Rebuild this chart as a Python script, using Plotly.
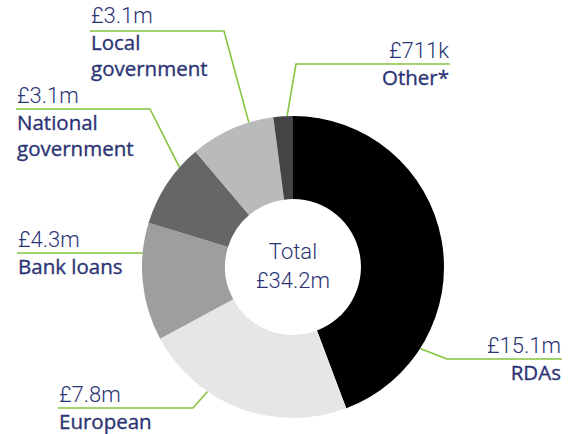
import math
import plotly.graph_objects as go

# Funding sources (£m), clockwise from 12 o'clock
sources = ["RDAs", "European", "Bank loans", "National government", "Local government", "Other*"]
amounts = [15.1, 7.8, 4.3, 3.1, 3.1, 0.711]
value_labels = ["£15.1m", "£7.8m", "£4.3m", "£3.1m", "£3.1m", "£711k"]
name_labels = ["RDAs", "European", "Bank loans", "National<br>government", "Local<br>government", "Other*"]
total_label = "£34.2m"

colors = ["#000000", "#e6e6e6", "#9e9e9f", "#666668", "#b9babb", "#444446"]

W, H = 568, 434
CX, CY, R = 293, 267, 151          # pie centre and radius in pixels
HOLE = 0.45

GREEN = "#86c440"
NAVY = "#2b3474"
NAME_FONT = "Open Sans"
VALUE_STYLE = "font-family:Roboto;font-weight:300;font-size:22px"
NAME_STYLE = f"stroke:{NAVY};stroke-width:0.35px"


def fx(x):
    return x / W


def fy(y):
    return 1 - y / H


# label layout: where along the slice the leader starts, elbow point, end of the
# horizontal rule, text side and vertical centre of the text block
layout_spec = [
    dict(frac=0.77, elbow=(447, 359), end=562, side="right", ty=359),
    dict(frac=0.67, elbow=(193, 408), end=58, side="left", ty=408),
    dict(frac=0.74, elbow=(142, 253), end=17, side="left", ty=253),
    dict(frac=0.74, elbow=(150, 109), end=16, side="left", ty=122),
    dict(frac=0.71, elbow=(224, 31), end=90, side="left", ty=43),
    dict(frac=0.70, elbow=(296, 64), end=450, side="right", ty=64),
]

fig = go.Figure(
    go.Pie(
        labels=sources,
        values=amounts,
        sort=False,
        direction="clockwise",
        rotation=0,
        hole=HOLE,
        marker=dict(colors=colors, line=dict(width=0)),
        textinfo="none",
        hoverinfo="label+value",
        domain=dict(
            x=[fx(CX - R), fx(CX + R)],
            y=[fy(CY + R), fy(CY - R)],
        ),
        showlegend=False,
    )
)

total = sum(amounts)
shapes = []
annotations = []
start = 0.0
for amt, val, name, spec in zip(amounts, value_labels, name_labels, layout_spec):
    span = amt / total * 360.0
    ang = math.radians(start + span * spec["frac"])
    start += span
    ax = CX + R * math.sin(ang)
    ay = CY - R * math.cos(ang)
    ex, ey = spec["elbow"]
    path = f"M {fx(ax)} {fy(ay)} L {fx(ex)} {fy(ey)} L {fx(spec['end'])} {fy(ey)}"
    shapes.append(dict(type="path", path=path, xref="paper", yref="paper",
                       line=dict(color=GREEN, width=1.6)))
    anchor = spec["side"]
    names = "<br>".join(f"<span style='{NAME_STYLE}'>{part}</span>" for part in name.split("<br>"))
    annotations.append(dict(
        x=fx(spec["end"]), y=fy(spec["ty"]), xref="paper", yref="paper",
        text=f"<span style='{VALUE_STYLE}'>{val}</span><br>{names}",
        showarrow=False, xanchor=anchor, yanchor="middle", align=anchor,
        borderpad=0,
        font=dict(family=NAME_FONT, size=20.5, color=NAVY),
    ))

annotations.append(dict(
    x=fx(CX), y=fy(266), xref="paper", yref="paper",
    text="Total<br>" + total_label, showarrow=False, xanchor="center", yanchor="middle",
    font=dict(family="Roboto", size=22, color=NAVY, weight=300),
))

fig.update_layout(
    width=W, height=H,
    margin=dict(l=0, r=0, t=0, b=0),
    paper_bgcolor="white",
    plot_bgcolor="white",
    shapes=shapes,
    annotations=annotations,
)

fig.write_html("out.html")
